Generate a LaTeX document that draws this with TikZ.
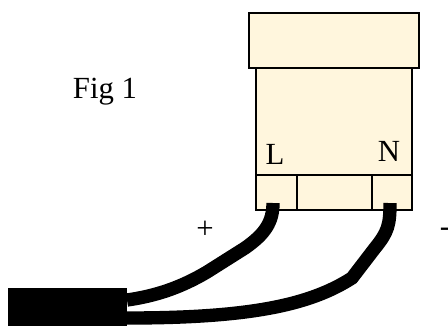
\documentclass[tikz,border=0pt]{standalone}
\usepackage{xcolor}
\usepackage{fontspec}
\setmainfont{Liberation Serif}
\definecolor{boxcream}{HTML}{FFF6DD}
\begin{document}
\begin{tikzpicture}[x=0.02cm, y=-0.02cm,
        housing/.style={rectangle, draw, line width=1.4pt, fill=boxcream, inner sep=0pt, anchor=north west},
        label/.style={inner sep=0pt, font=\fontsize{17.5}{17.5}\selectfont},
        wire/.style={line width=7.6pt}]
        \useasboundingbox (0,0) rectangle (448,326);
        \node[housing, minimum width=156*0.02cm, minimum height=107*0.02cm] (body) at (255,67) {};
        \node[housing, minimum width=170*0.02cm, minimum height=55*0.02cm] (cap) at (248,12) {};
        \node[housing, minimum width=41*0.02cm, minimum height=35*0.02cm] (live) at (255,174) {};
        \node[housing, minimum width=75*0.02cm, minimum height=35*0.02cm] (middle) at (296,174) {};
        \node[housing, minimum width=40*0.02cm, minimum height=35*0.02cm] (neutral) at (371,174) {};
        \node[fill=black, inner sep=0pt, anchor=north west, minimum width=119*0.02cm, minimum height=38*0.02cm] (cable) at (8,288) {};

        \node[label] (fig) at (105,92) {Fig 1};
        \node[label] (L) at (275,154) {L};
        \node[label] (N) at (389,151) {N};
        \node[label] (plus) at (205,230) {+};
        \node[label] (minus) at (445,232) {-};

        \coordinate (liveend) at (273,203);
        \coordinate (neutralend) at (390,203);
        \coordinate (cableA) at (127,300);
        \coordinate (cableB) at (127,318);
        \coordinate (bend) at (352,278);

        \draw[wire] (liveend) .. controls (273,222) and (265,234) .. (245,248)
            -- (207,272) .. controls (180,288) and (155,296) .. (cableA);
        \draw[wire] (neutralend) .. controls (390,225) and (388,232) .. (375,248)
            -- (bend) .. controls (310,305) and (250,318) .. (cableB);
    \end{tikzpicture}
\end{document}
